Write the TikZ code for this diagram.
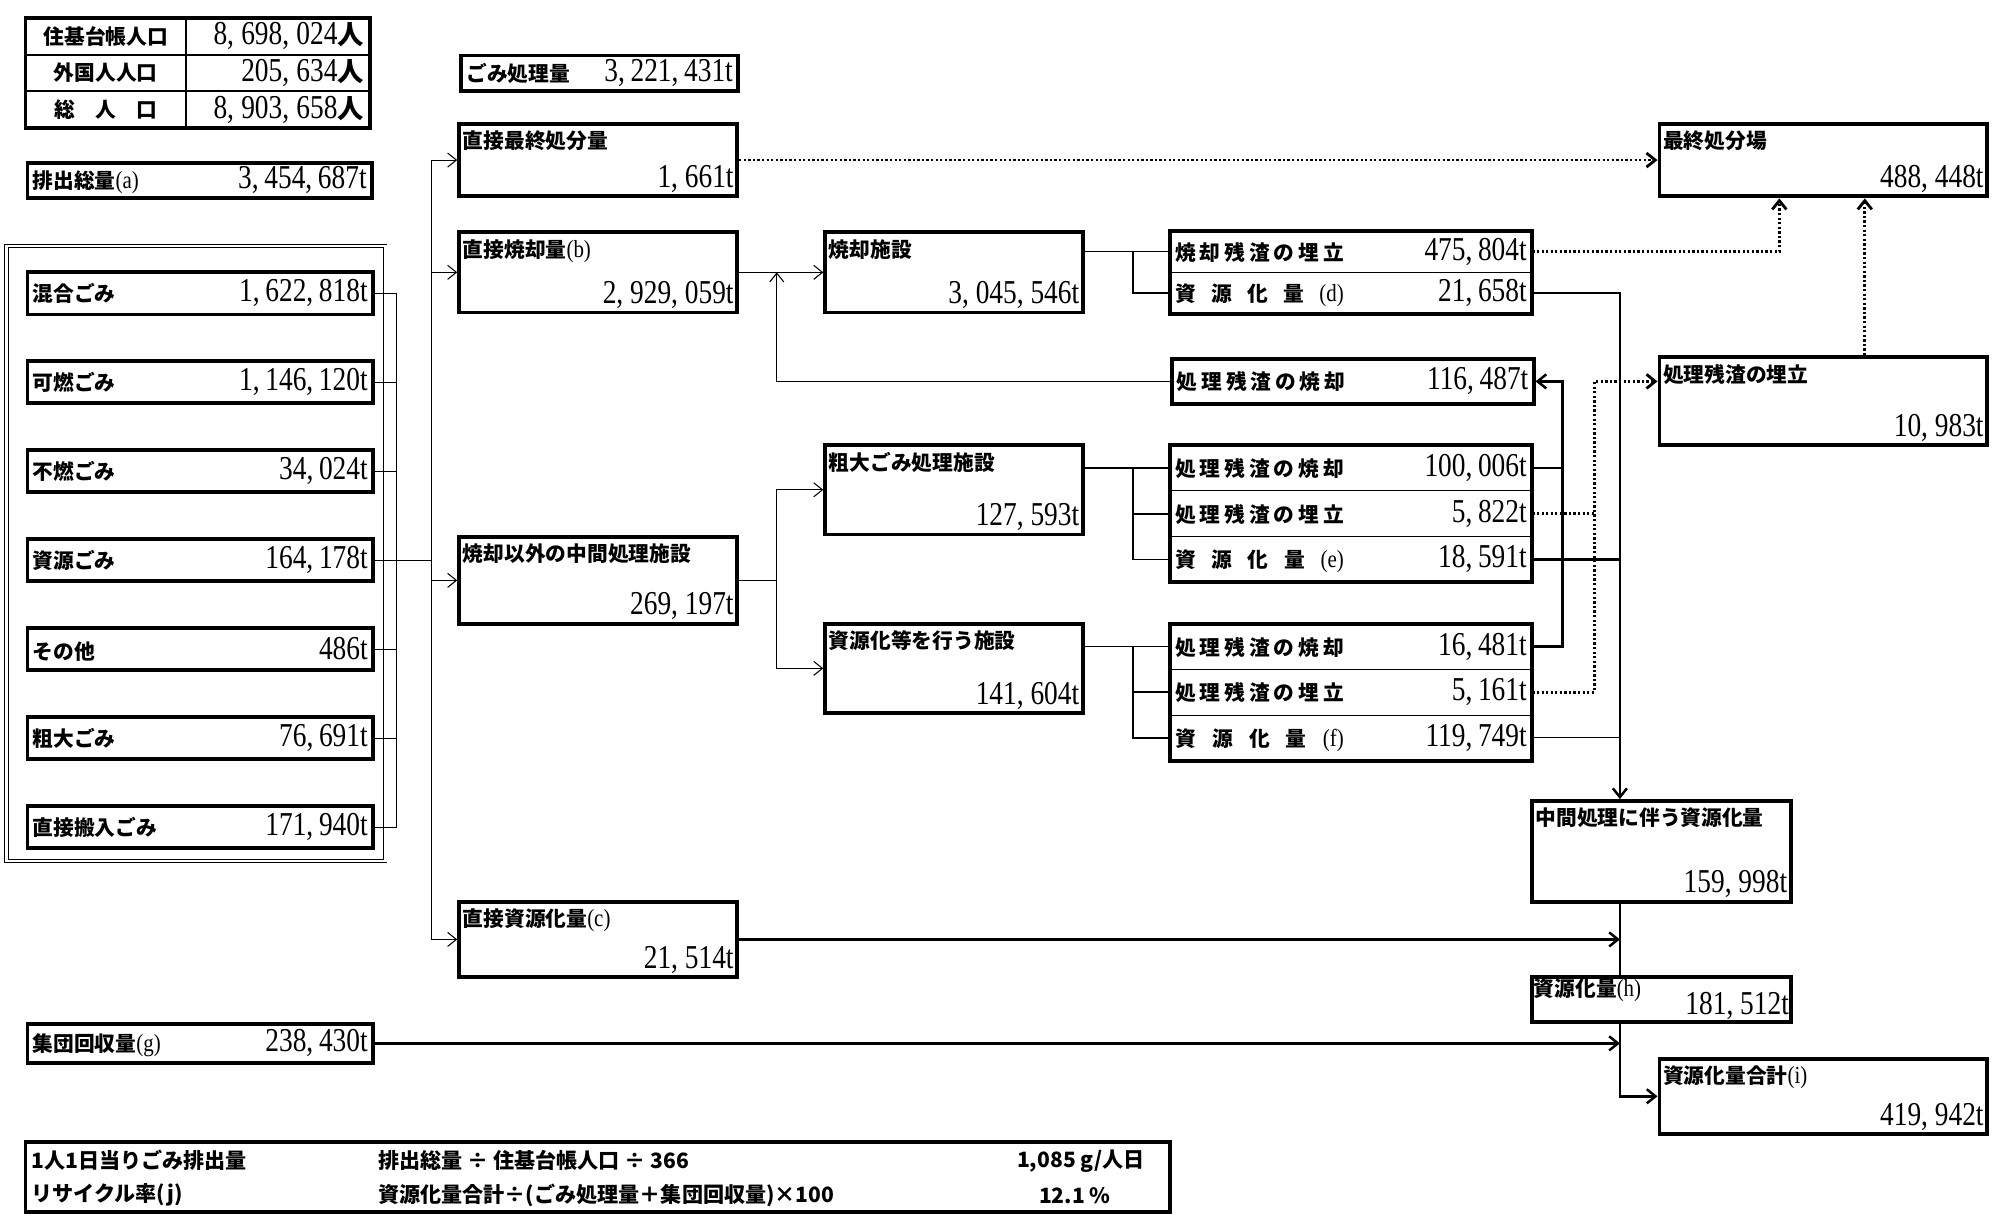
\documentclass[tikz,border=0pt]{standalone}
\usepackage{fontspec}
\setmainfont{Liberation Serif}
\newfontfamily\jp{Noto Sans CJK JP}
\usetikzlibrary{arrows.meta, positioning, fit}

\newcommand\amount[1]{\scalebox{0.82}[1]{\normalfont\fontsize{19}{19}\selectfont #1}}
\newcommand\paren[1]{{\normalfont\fontsize{14}{14}\selectfont\scalebox{0.85}[1]{(#1)}}}
\newcommand\spread[1]{\makebox[3.37cm][s]{\spaceskip=0pt plus 1fil #1}}
\newcommand\flowbox[5]{%
	\node[box, inner sep=0pt, fit={(#2) (#3)}] (#1) {};
	\node[lbl, anchor=north west, inner ysep=5pt] (#1-l) at (#1.north west) {#4};
	\node[val, anchor=south east] (#1-v) at (#1.south east) {\amount{#5}};
}

\begin{document}
\begin{tikzpicture}[x=0.02551cm, y=-0.02551cm]

	\tikzset{
		box/.style={draw, line width=2.2pt},
		lbl/.style={font=\jp\bfseries\fontsize{11.8}{13}\selectfont, inner sep=3pt},
		val/.style={inner sep=3pt},
		item/.style={box, lbl, anchor=north west, inner xsep=3pt, inner ysep=0pt, text width=#1},
		cell/.style={lbl, anchor=north west, inner xsep=3pt, inner ysep=0pt, text width=7.03cm, minimum height=#1},
		tcell/.style={lbl, draw, line width=0.6pt, inner sep=0pt, minimum height=0.714cm},
		tval/.style={tcell, text width=3.44cm, inner xsep=0.105cm, align=right, font=\jp\bfseries\fontsize{15}{15}\selectfont},
		frame/.style={draw, double, double distance=1.5pt, line width=0.5pt, inner sep=0pt},
		rtext/.style={font=\jp\bfseries\fontsize{12}{14}\selectfont, inner sep=1pt},
		thinline/.style={line width=0.6pt},
		midline/.style={line width=1pt},
		link/.style={line width=1.4pt},
		tip/.style={-{Straight Barb[length=5pt, width=8pt]}},
		flow/.style={thinline, tip},
		dotline/.style={line width=1.6pt, dash pattern=on 1.3pt off 1.3pt},
	}
	\useasboundingbox (0,0) rectangle (1568,953);

	% population table
	\node[tcell, anchor=north west, minimum width=3.19cm] (p1a) at (20,14) {住基台帳人口};
	\node[tval, right=0pt of p1a] (p1b) {\amount{8, 698, 024}人};
	\node[tcell, minimum width=3.19cm, below=0pt of p1a] (p2a) {外国人人口};
	\node[tval, right=0pt of p2a] (p2b) {\amount{205, 634}人};
	\node[tcell, minimum width=3.19cm, below=0pt of p2a] (p3a) {\makebox[2.05cm][s]{総 人 口}};
	\node[tval, right=0pt of p3a] (p3b) {\amount{8, 903, 658}人};
	\node[box, inner sep=0pt, fit=(p1a) (p3b)] (pop) {};

	\node[item=6.68cm, minimum height=0.714cm] (emit) at (20,126) {排出総量\paren{a}\hfill\amount{3, 454, 687t}};
	\node[item=5.33cm, minimum height=0.714cm] (gomi) at (360,42) {ごみ処理量\hfill\amount{3, 221, 431t}};

	% waste kinds
	\node[frame, fit={(5,193) (302,675)}] (waste) {};
	\node[item=6.70cm, minimum height=0.842cm] (mix) at (20,212) {混合ごみ\hfill\amount{1, 622, 818t}};
	\node[item=6.70cm, minimum height=0.842cm, below=0.86cm of mix] (burn) {可燃ごみ\hfill\amount{1, 146, 120t}};
	\node[item=6.70cm, minimum height=0.842cm, below=0.86cm of burn] (nonburn) {不燃ごみ\hfill\amount{34, 024t}};
	\node[item=6.70cm, minimum height=0.842cm, below=0.86cm of nonburn] (res) {資源ごみ\hfill\amount{164, 178t}};
	\node[item=6.70cm, minimum height=0.842cm, below=0.86cm of res] (other) {その他\hfill\amount{486t}};
	\node[item=6.70cm, minimum height=0.842cm, below=0.86cm of other] (bulkyw) {粗大ごみ\hfill\amount{76, 691t}};
	\node[item=6.70cm, minimum height=0.842cm, below=0.86cm of bulkyw] (direct) {直接搬入ごみ\hfill\amount{171, 940t}};

	\node[item=6.70cm, minimum height=0.79cm] (group) at (20,801) {集団回収量\paren{g}\hfill\amount{238, 430t}};

	% flow boxes
	\flowbox{dfin}{360,97}{578,154}{直接最終処分量}{1, 661t}
	\flowbox{dinc}{360,182}{578,245}{直接焼却量\paren{b}}{2, 929, 059t}
	\flowbox{nonin}{360,421}{578,489}{焼却以外の中間処理施設}{269, 197t}
	\flowbox{drec}{360,707}{578,766}{直接資源化量\paren{c}}{21, 514t}
	\flowbox{inc}{647,182}{849,245}{焼却施設}{3, 045, 546t}
	\flowbox{bulky}{647,349}{849,419}{粗大ごみ処理施設}{127, 593t}
	\flowbox{recyc}{647,489}{849,559}{資源化等を行う施設}{141, 604t}
	\flowbox{fin}{1301,97}{1558,154}{最終処分場}{488, 448t}
	\flowbox{rland}{1301,280}{1558,349}{処理残渣の埋立}{10, 983t}
	\flowbox{mid}{1201,628}{1404,707}{中間処理に伴う資源化量}{159, 998t}
	\node[box, inner sep=0pt, fit={(1201,766) (1404,801)}] (hsum) {};
	\node[lbl, anchor=north west, inner sep=2pt] (hsum-l) at (hsum.north west) {資源化量\paren{h}};
	\node[val, anchor=south east, inner sep=2pt] (hsum-v) at (hsum.south east) {\amount{181, 512t}};
	\flowbox{total}{1301,830}{1558,889}{資源化量合計\paren{i}}{419, 942t}

	% result rows
	\node[cell=0.816cm] (inc1) at (917,181) {\spread{焼 却 残 渣 の 埋 立}\hfill\amount{475, 804t}};
	\node[cell=0.816cm, below=0pt of inc1] (inc2) {\spread{資 源 化 量 \paren{d}}\hfill\amount{21, 658t}};
	\node[box, inner sep=0pt, fit=(inc1) (inc2)] (incres) {};
	\draw[thinline] (inc1.south west) -- (inc1.south east);

	\node[cell=0.893cm, box] (rinc) at (917,280) {\spread{処 理 残 渣 の 焼 却}\hfill\amount{116, 487t}};

	\node[cell=0.90cm] (bk1) at (917,349) {\spread{処 理 残 渣 の 焼 却}\hfill\amount{100, 006t}};
	\node[cell=0.90cm, below=0pt of bk1] (bk2) {\spread{処 理 残 渣 の 埋 立}\hfill\amount{5, 822t}};
	\node[cell=0.90cm, below=0pt of bk2] (bk3) {\spread{資 源 化 量 \paren{e}}\hfill\amount{18, 591t}};
	\node[box, inner sep=0pt, fit=(bk1) (bk3)] (bkres) {};
	\draw[thinline] (bk1.south west) -- (bk1.south east);
	\draw[thinline] (bk2.south west) -- (bk2.south east);

	\node[cell=0.90cm] (rc1) at (917,489) {\spread{処 理 残 渣 の 焼 却}\hfill\amount{16, 481t}};
	\node[cell=0.90cm, below=0pt of rc1] (rc2) {\spread{処 理 残 渣 の 埋 立}\hfill\amount{5, 161t}};
	\node[cell=0.90cm, below=0pt of rc2] (rc3) {\spread{資 源 化 量 \paren{f}}\hfill\amount{119, 749t}};
	\node[box, inner sep=0pt, fit=(rc1) (rc3)] (rcres) {};
	\draw[thinline] (rc1.south west) -- (rc1.south east);
	\draw[thinline] (rc2.south west) -- (rc2.south east);

	% rates table
	\node[box, inner sep=0pt, fit={(20,895) (917,950)}] (rate) {};
	\node[rtext, anchor=west] (rate1a) at (23,910) {1人1日当りごみ排出量};
	\node[rtext, anchor=west] (rate1b) at (295,910) {排出総量 ÷ 住基台帳人口 ÷ 366};
	\node[rtext, anchor=east] (rate1c) at (899,910) {1,085 g/人日};
	\node[rtext, anchor=west] (rate2a) at (23,937) {リサイクル率(j)};
	\node[rtext, anchor=west] (rate2b) at (295,937) {資源化量合計÷(ごみ処理量＋集団回収量)×100};
	\node[rtext, anchor=west] (rate2c) at (813,937) {12.1 \%};

	% junctions
	\coordinate (sumx) at (311,0);
	\coordinate (busx) at (338,0);
	\coordinate (loopx) at (609,0);
	\coordinate (forkx) at (888,0);
	\coordinate (incx) at (1225,0);
	\coordinate (landx) at (1250,0);
	\coordinate (recx) at (1270,0);
	\coordinate (finx1) at (1395,0);
	\coordinate (finx2) at (1462,0);

	\foreach \n in {mix,burn,nonburn,res,other,bulkyw,direct}
		\draw[thinline] (\n.east) -- (\n.east -| sumx);
	\draw[thinline] (mix.east -| sumx) -- (direct.east -| sumx);
	\draw[thinline] (res.east -| sumx) -- (res.east -| busx);
	\draw[thinline] (dfin.west -| busx) -- (drec.west -| busx);
	\foreach \n in {dfin,dinc,nonin,drec}
		\draw[flow] (\n.west -| busx) -- (\n.west);

	\draw[flow] (dinc.east) -- (inc.west);
	\draw[flow] (rinc.west) -| (loopx |- dinc.east);
	\draw[thinline] (nonin.east) -- (nonin.east -| loopx);
	\draw[flow] (nonin.east -| loopx) |- (bulky.west);
	\draw[flow] (nonin.east -| loopx) |- (recyc.west);

	\draw[midline] (inc.east |- inc1.west) -- (inc1.west);
	\draw[midline] (forkx |- inc1.west) |- (inc2.west);
	\draw[midline] (bulky.east |- bk1.west) -- (bk1.west);
	\draw[midline] (forkx |- bk1.west) |- (bk3.west);
	\draw[midline] (forkx |- bk2.west) -- (bk2.west);
	\draw[midline] (recyc.east |- rc1.west) -- (rc1.west);
	\draw[midline] (forkx |- rc1.west) |- (rc3.west);
	\draw[midline] (forkx |- rc2.west) -- (rc2.west);

	\draw[dotline, tip] (dfin.east) -- (fin.west);
	\draw[dotline, tip] (inc1.east) -| (finx1 |- fin.south);
	\draw[dotline, tip] (rland.north -| finx2) -- (fin.south -| finx2);

	\draw[link] (bk1.east) -- (bk1.east -| incx);
	\draw[link, tip] (rc1.east) -| (incx |- rinc.east) -- (rinc.east);
	\draw[dotline] (bk2.east) -- (bk2.east -| landx);
	\draw[dotline, tip] (rc2.east) -| (landx |- rinc.east) -- (rland.west |- rinc.east);

	\draw[link, tip] (inc2.east) -| (recx |- mid.north);
	\draw[link] (bk3.east) -- (bk3.east -| recx);
	\draw[thinline] (rc3.east) -- (rc3.east -| recx);
	\draw[link] (recx |- mid.south) -- (recx |- hsum.north);
	\draw[link, tip] (recx |- hsum.south) |- (total.west);
	\draw[link, tip] (drec.east) -- (recx |- drec.east);
	\draw[link, tip] (group.east) -- (recx |- group.east);

\end{tikzpicture}
\end{document}
